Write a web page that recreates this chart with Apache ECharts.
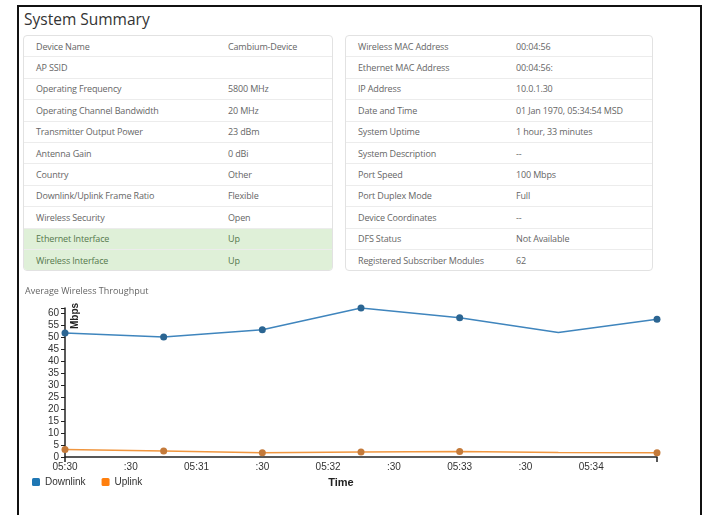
<!DOCTYPE html>
<html>
<head>
<meta charset="utf-8">
<script src="https://cdn.jsdelivr.net/npm/echarts@6/dist/echarts.min.js"></script>
<style>
  html, body { margin: 0; padding: 0; background: #fff; }
  body { width: 703px; height: 515px; position: relative; overflow: hidden; font-family: 'Open Sans', sans-serif; }
  .frame { position: absolute; left: 17px; top: 5px; width: 681px; height: 520px; border: 2px solid #111; border-bottom: none; }
  .title { position: absolute; left: 24px; top: 8px; font-size: 15.5px; color: #333; }
  .info { position: absolute; top: 35px; border: 1px solid #e2e2e2; border-radius: 4px; border-collapse: separate; border-spacing: 0; font-size: 9px; letter-spacing: -0.15px; color: #666; overflow: hidden; }
  .info td { height: 20.4px; padding: 0; border-top: 1px solid #ececec; white-space: nowrap; }
  .info tr:first-child td { border-top: none; }
  .info tr.ok td { background: #dff0d8; color: #55784c; }
  #left { left: 23px; width: 310px; }
  #right { left: 345px; width: 308px; }
  #left td.k { padding-left: 12px; width: 192px; }
  #right td.k { padding-left: 12px; width: 158px; }
  #chart { position: absolute; left: 0; top: 275px; width: 703px; height: 240px; }
</style>
</head>
<body>
<div class="frame"></div>
<div class="title">System Summary</div>
<table class="info" id="left"></table>
<table class="info" id="right"></table>
<div id="chart"></div>
<script>
// summary tables
const leftKeys = ['Device Name', 'AP SSID', 'Operating Frequency', 'Operating Channel Bandwidth', 'Transmitter Output Power',
  'Antenna Gain', 'Country', 'Downlink/Uplink Frame Ratio', 'Wireless Security', 'Ethernet Interface', 'Wireless Interface']
const leftVals = ['Cambium-Device', '', '5800 MHz', '20 MHz', '23 dBm', '0 dBi', 'Other', 'Flexible', 'Open', 'Up', 'Up']
const leftOk = ['Ethernet Interface', 'Wireless Interface']
const rightKeys = ['Wireless MAC Address', 'Ethernet MAC Address', 'IP Address', 'Date and Time', 'System Uptime',
  'System Description', 'Port Speed', 'Port Duplex Mode', 'Device Coordinates', 'DFS Status', 'Registered Subscriber Modules']
const rightVals = ['00:04:56', '00:04:56:', '10.0.1.30', '01 Jan 1970, 05:34:54 MSD', '1 hour, 33 minutes',
  '--', '100 Mbps', 'Full', '--', 'Not Available', '62']

// chart data
const times = ['05:30:00', '05:30:45', '05:31:30', '05:32:15', '05:33:00', '05:33:45', '05:34:30']
const downlink = [51.7, 50.0, 53.0, 62.1, 58.0, 51.9, 57.4]
const uplink = [3.1, 2.5, 1.8, 2.1, 2.3, 1.9, 1.8]
const tickTimes = ['05:30:00', '05:30:30', '05:31:00', '05:31:30', '05:32:00', '05:32:30', '05:33:00', '05:33:30', '05:34:00']
const tickLabels = ['05:30', ':30', '05:31', ':30', '05:32', ':30', '05:33', ':30', '05:34']
const yTicks = [0, 5, 10, 15, 20, 25, 30, 35, 40, 45, 50, 55, 60]
const noMarker = 5 // sample drawn without a dot

const fillTable = (id, keys, vals, ok) => {
  document.getElementById(id).innerHTML = keys.map((k, i) =>
    `<tr class="${ok.includes(k) ? 'ok' : ''}"><td class="k">${k}</td><td>${vals[i]}</td></tr>`).join('')
}
fillTable('left', leftKeys, leftVals, leftOk)
fillTable('right', rightKeys, rightVals, [])

const secs = t => { const [h, m, s] = t.split(':').map(Number); return h * 3600 + m * 60 + s }
const t0 = secs(times[0])
const xs = times.map(t => secs(t) - t0)
const tickXs = tickTimes.map(t => secs(t) - t0)
const pts = arr => arr.map((v, i) => i === noMarker ? { value: [xs[i], v], symbol: 'none' } : [xs[i], v])
const yMax = Math.max(...downlink, ...uplink)

const font = 'Liberation Sans, Arial, sans-serif'
const chart = echarts.init(document.getElementById('chart'))
chart.setOption({
  animation: false,
  title: {
    text: 'Average Wireless Throughput', left: 25, top: 12, padding: 0,
    textStyle: { fontSize: 9, fontWeight: 'normal', color: '#666', fontFamily: 'Open Sans' }
  },
  grid: { left: 65, right: 46, top: 33, bottom: 58 },
  legend: {
    left: 32, top: 202, padding: 0, itemWidth: 8, itemHeight: 8, itemGap: 16,
    icon: 'path://M1.5,0H6.5Q8,0 8,1.5V6.5Q8,8 6.5,8H1.5Q0,8 0,6.5V1.5Q0,0 1.5,0Z',
    textStyle: { fontSize: 10, color: '#333', fontFamily: font },
    data: [
      { name: 'Downlink', itemStyle: { color: '#1f77b4' } },
      { name: 'Uplink', itemStyle: { color: '#ff7f0e' } }
    ]
  },
  xAxis: {
    type: 'value', min: 0, max: xs[xs.length - 1], interval: 30,
    axisLine: { lineStyle: { color: '#222', width: 1.5 } },
    axisTick: { show: true, customValues: [0, xs[xs.length - 1]], length: 5, lineStyle: { color: '#222', width: 1.5 } },
    axisLabel: {
      customValues: tickXs, margin: 5, fontSize: 10, color: '#333', fontFamily: font,
      formatter: v => tickLabels[tickXs.indexOf(v)] || ''
    },
    splitLine: { show: false }
  },
  yAxis: {
    type: 'value', min: 0, max: yMax, interval: 5,
    axisLine: { show: true, lineStyle: { color: '#222', width: 1.5 } },
    axisTick: { show: true, customValues: [...yTicks, yMax], length: 4, lineStyle: { color: '#222' } },
    axisLabel: { customValues: yTicks, margin: 6, fontSize: 10, color: '#333', fontFamily: font },
    splitLine: { show: false }
  },
  graphic: [
    { type: 'text', x: 75, y: 41, rotation: Math.PI / 2,
      style: { text: 'Mbps', fill: '#222', font: 'bold 10px Liberation Sans', align: 'center', verticalAlign: 'middle' } },
    { type: 'text', x: 341, y: 208,
      style: { text: 'Time', fill: '#222', font: 'bold 11px Liberation Sans', align: 'center', verticalAlign: 'middle' } }
  ],
  series: [
    {
      name: 'Downlink', type: 'line', data: pts(downlink), symbol: 'circle', symbolSize: 7,
      itemStyle: { color: '#2b6592' }, lineStyle: { color: '#3f85bd', width: 1.5 }
    },
    {
      name: 'Uplink', type: 'line', data: pts(uplink), symbol: 'circle', symbolSize: 7,
      itemStyle: { color: '#c47a3a' }, lineStyle: { color: '#f0963f', width: 1.5 }
    }
  ]
})
</script>
</body>
</html>
